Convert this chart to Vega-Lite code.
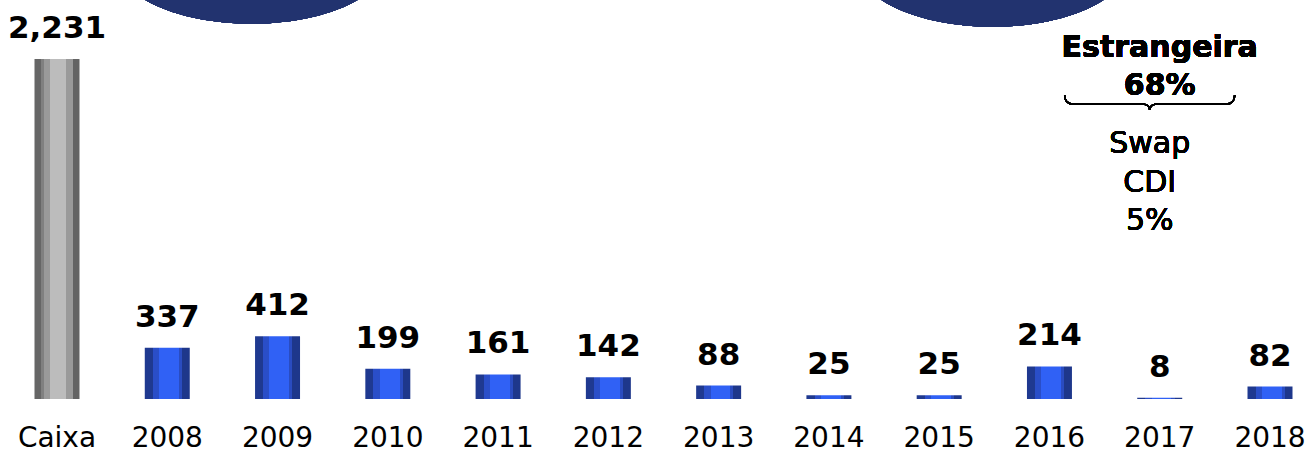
{
  "$schema": "https://vega.github.io/schema/vega-lite/v6.json",
  "width": 1258,
  "height": 399,
  "autosize": {"type": "none"},
  "padding": {"left": 34.5, "top": 0, "right": 19.5, "bottom": 55},
  "background": "white",
  "config": {"view": {"stroke": null}},
  "data": {
    "values": [
      {"cat": "Caixa", "value": 2231},
      {"cat": "2008", "value": 337},
      {"cat": "2009", "value": 412},
      {"cat": "2010", "value": 199},
      {"cat": "2011", "value": 161},
      {"cat": "2012", "value": 142},
      {"cat": "2013", "value": 88},
      {"cat": "2014", "value": 25},
      {"cat": "2015", "value": 25},
      {"cat": "2016", "value": 214},
      {"cat": "2017", "value": 8},
      {"cat": "2018", "value": 82}
    ]
  },
  "layer": [
    {
      "transform": [{"filter": "datum.cat === 'Caixa'"}],
      "mark": {
        "type": "bar",
        "fill": {
          "gradient": "linear", "x1": 0, "x2": 1, "y1": 0, "y2": 0,
          "stops": [
            {"offset": 0, "color": "#666666"}, {"offset": 0.15, "color": "#666666"},
            {"offset": 0.15, "color": "#808080"}, {"offset": 0.21, "color": "#808080"},
            {"offset": 0.21, "color": "#9a9a9a"}, {"offset": 0.35, "color": "#9a9a9a"},
            {"offset": 0.35, "color": "#bcbcbc"}, {"offset": 0.7, "color": "#bcbcbc"},
            {"offset": 0.7, "color": "#9a9a9a"}, {"offset": 0.85, "color": "#9a9a9a"},
            {"offset": 0.85, "color": "#646464"}, {"offset": 1, "color": "#646464"}
          ]
        }
      },
      "encoding": {
        "x": {"field": "cat", "type": "nominal", "sort": null,
          "scale": {"domain": ["Caixa","2008","2009","2010","2011","2012","2013","2014","2015","2016","2017","2018"], "paddingInner": 0.592, "paddingOuter": 0},
          "axis": {"title": null, "domain": false, "ticks": false, "labelAngle": 0, "labelFont": "DejaVu Sans", "labelFontSize": 28, "labelColor": "#000000", "labelBaseline": "alphabetic", "labelPadding": 47}},
        "y": {"field": "value", "type": "quantitative", "scale": {"domain": [0, 2618], "nice": false}, "axis": null}
      }
    },
    {
      "transform": [{"filter": "datum.cat !== 'Caixa'"}],
      "mark": {
        "type": "bar",
        "fill": {
          "gradient": "linear", "x1": 0, "x2": 1, "y1": 0, "y2": 0,
          "stops": [
            {"offset": 0, "color": "#1f3990"}, {"offset": 0.18, "color": "#1f3990"},
            {"offset": 0.18, "color": "#2a4ec8"}, {"offset": 0.32, "color": "#2a4ec8"},
            {"offset": 0.32, "color": "#3061f5"}, {"offset": 0.76, "color": "#3061f5"},
            {"offset": 0.76, "color": "#2a4cc0"}, {"offset": 0.83, "color": "#2a4cc0"},
            {"offset": 0.83, "color": "#1e378b"}, {"offset": 1, "color": "#1e378b"}
          ]
        }
      },
      "encoding": {
        "x": {"field": "cat", "type": "nominal", "sort": null,
          "scale": {"domain": ["Caixa","2008","2009","2010","2011","2012","2013","2014","2015","2016","2017","2018"], "paddingInner": 0.592, "paddingOuter": 0}},
        "y": {"field": "value", "type": "quantitative", "scale": {"domain": [0, 2618], "nice": false}, "axis": null}
      }
    },
    {
      "mark": {"type": "text", "font": "DejaVu Sans", "fontWeight": "bold", "fontSize": 31, "baseline": "alphabetic", "align": "center", "dy": -21, "color": "#000000"},
      "encoding": {
        "x": {"field": "cat", "type": "nominal", "sort": null,
          "scale": {"domain": ["Caixa","2008","2009","2010","2011","2012","2013","2014","2015","2016","2017","2018"], "paddingInner": 0.592, "paddingOuter": 0}},
        "y": {"field": "value", "type": "quantitative", "scale": {"domain": [0, 2618], "nice": false}, "axis": null},
        "text": {"field": "value", "type": "quantitative", "format": ","}
      }
    },
    {
      "mark": {"type": "point", "filled": true, "color": "#22336f", "opacity": 1, "strokeWidth": 0, "size": 72900,
        "shape": "M -1.193 0 A 1 0.46 0 1 0 0.807 0 A 1 0.46 0 1 0 -1.193 0 Z"},
      "encoding": {
        "x": {"datum": "2009", "type": "nominal",
          "scale": {"domain": ["Caixa","2008","2009","2010","2011","2012","2013","2014","2015","2016","2017","2018"], "paddingInner": 0.592, "paddingOuter": 0}},
        "y": {"datum": 2870, "type": "quantitative", "scale": {"domain": [0, 2618], "nice": false}, "axis": null}
      }
    },
    {
      "mark": {"type": "point", "filled": true, "color": "#22336f", "opacity": 1, "strokeWidth": 0, "size": 72900,
        "shape": "M -1.422 0 A 1 0.46 0 1 0 0.578 0 A 1 0.46 0 1 0 -1.422 0 Z"},
      "encoding": {
        "x": {"datum": "2016", "type": "nominal",
          "scale": {"domain": ["Caixa","2008","2009","2010","2011","2012","2013","2014","2015","2016","2017","2018"], "paddingInner": 0.592, "paddingOuter": 0}},
        "y": {"datum": 2850, "type": "quantitative", "scale": {"domain": [0, 2618], "nice": false}, "axis": null}
      }
    },
    {
      "mark": {"type": "text", "text": ["Estrangeira", "68%"], "font": "DejaVu Sans", "fontWeight": "bold", "fontSize": 30, "lineHeight": 38, "baseline": "alphabetic", "align": "center", "color": "#000000"},
      "encoding": {
        "x": {"datum": "2017", "type": "nominal",
          "scale": {"domain": ["Caixa","2008","2009","2010","2011","2012","2013","2014","2015","2016","2017","2018"], "paddingInner": 0.592, "paddingOuter": 0}},
        "y": {"datum": 2244, "type": "quantitative", "scale": {"domain": [0, 2618], "nice": false}, "axis": null}
      }
    },
    {
      "mark": {"type": "point", "filled": false, "color": "#000000", "opacity": 1, "strokeWidth": 1.5, "size": 28900,
        "shape": "M -1.118 -0.106 Q -1.118 0 -1.02 0 L -0.22 0 Q -0.118 0 -0.118 0.07 Q -0.118 0 -0.016 0 L 0.78 0 Q 0.882 0 0.882 -0.106"},
      "encoding": {
        "x": {"datum": "2017", "type": "nominal",
          "scale": {"domain": ["Caixa","2008","2009","2010","2011","2012","2013","2014","2015","2016","2017","2018"], "paddingInner": 0.592, "paddingOuter": 0}},
        "y": {"datum": 1936, "type": "quantitative", "scale": {"domain": [0, 2618], "nice": false}, "axis": null}
      }
    },
    {
      "mark": {"type": "text", "text": ["Swap", "CDI", "5%"], "font": "DejaVu Sans", "fontSize": 30, "lineHeight": 38.5, "baseline": "alphabetic", "align": "center", "dx": -10, "color": "#000000"},
      "encoding": {
        "x": {"datum": "2017", "type": "nominal",
          "scale": {"domain": ["Caixa","2008","2009","2010","2011","2012","2013","2014","2015","2016","2017","2018"], "paddingInner": 0.592, "paddingOuter": 0}},
        "y": {"datum": 1614, "type": "quantitative", "scale": {"domain": [0, 2618], "nice": false}, "axis": null}
      }
    }
  ]
}
